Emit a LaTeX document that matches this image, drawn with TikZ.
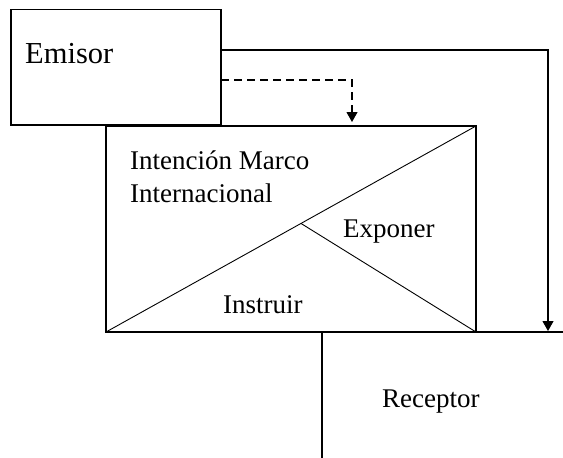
\documentclass[tikz,border=0pt]{standalone}
\usepackage{fontspec}
\setmainfont{Liberation Serif}
\usetikzlibrary{arrows.meta,calc}
\begin{document}
\begin{tikzpicture}[x=1pt,y=-1pt,
  frame/.style={draw,line width=1.3pt,inner sep=0pt,outer sep=0pt,anchor=north west},
  link/.style={line width=1.1pt},
  split/.style={line width=0.9pt},
  tip/.style={-{Triangle[width=11pt,length=10pt]}},
  lbl/.style={anchor=base west,inner sep=0pt,font=\fontsize{27}{33}\selectfont},
  biglbl/.style={lbl,font=\fontsize{30.5}{36}\selectfont}]
\useasboundingbox[fill=white] (0,0) rectangle (563,458);

% boxes
\node[frame,minimum width=210pt,minimum height=115.5pt] (emisor) at (11,9.5) {};
\node[frame,minimum width=370pt,minimum height=206pt] (marco) at (106,126) {};

% inner split of the frame
\coordinate (mid) at ($(marco.south west)!0.527!(marco.north east)$);
\draw[split] (marco.south west) -- (marco.north east);
\draw[split] (mid) -- (marco.south east);

% receptor outline (open box)
\coordinate (edge) at (563,332);
\coordinate (rbottom) at (322,458);
\coordinate (rtop) at (rbottom |- marco.south);
\draw[link] (marco.south east) -- (marco.south east -| edge);
\draw[link] (rtop) -- (rbottom);

% connectors
\coordinate (rcv) at (548,331);
\coordinate (dtip) at (352,122);
\draw[link,tip] ([yshift=-40.5pt]emisor.north east) -| (rcv);
\draw[link,tip,dash pattern=on 8pt off 5pt] ([yshift=-70.5pt]emisor.north east) -| (dtip);

% labels
\node[biglbl] (temisor) at (25,63) {Emisor};
\node[lbl] (tmarco1) at (130,169) {Intención Marco};
\node[lbl] (tmarco2) at (130,202) {Internacional};
\node[lbl] (texpon) at (343,237) {Exponer};
\node[lbl] (tinstr) at (223,313) {Instruir};
\node[lbl] (trecep) at (382,407) {Receptor};
\end{tikzpicture}
\end{document}
